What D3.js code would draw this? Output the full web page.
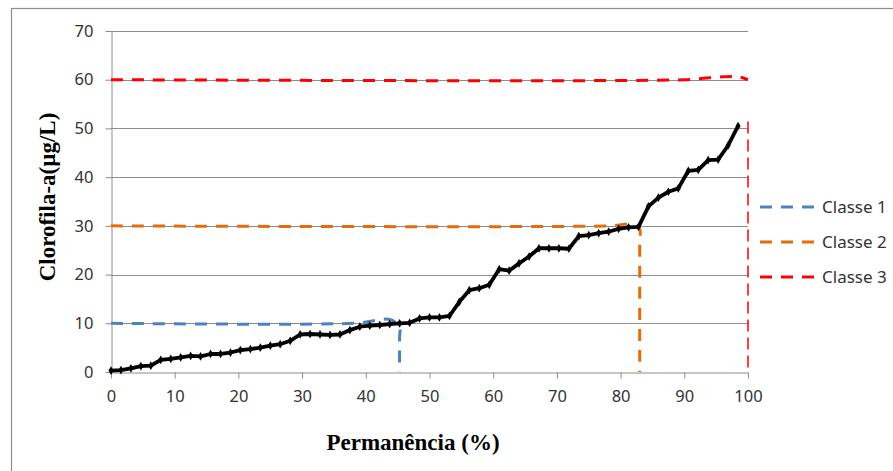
<!DOCTYPE html>
<html>
<head>
<meta charset="utf-8">
<script src="https://cdn.jsdelivr.net/npm/d3@7"></script>
<style>
  html, body { margin: 0; padding: 0; background: #fff; }
  svg { display: block; }
</style>
</head>
<body>
<svg id="chart" width="893" height="471"></svg>
<script>
// ---- Data ----
const permanencia = [0, 1.56, 3.13, 4.69, 6.25, 7.81, 9.38, 10.94, 12.5, 14.06, 15.63, 17.19, 18.75, 20.31, 21.88, 23.44,
  25.0, 26.56, 28.13, 29.69, 31.25, 32.81, 34.38, 35.94, 37.5, 39.06, 40.63, 42.19, 43.75, 45.31, 46.88, 48.44,
  50.0, 51.56, 53.13, 54.69, 56.25, 57.81, 59.38, 60.94, 62.5, 64.06, 65.63, 67.19, 68.75, 70.31, 71.88, 73.44,
  75.0, 76.56, 78.13, 79.69, 81.25, 82.81, 84.38, 85.94, 87.5, 89.06, 90.63, 92.19, 93.75, 95.31, 96.88, 98.44];
const clorofila = [0.3, 0.4, 0.75, 1.2, 1.3, 2.5, 2.7, 3.0, 3.3, 3.2, 3.7, 3.7, 4.0, 4.5, 4.7, 5.0,
  5.4, 5.7, 6.4, 7.7, 7.8, 7.7, 7.6, 7.7, 8.6, 9.3, 9.5, 9.65, 9.85, 10.0, 10.1, 11.0,
  11.2, 11.2, 11.5, 14.4, 16.8, 17.2, 17.9, 21.1, 20.8, 22.3, 23.7, 25.4, 25.4, 25.4, 25.3, 27.9,
  28.1, 28.5, 28.8, 29.4, 29.7, 29.8, 34.0, 35.8, 37.0, 37.7, 41.3, 41.5, 43.5, 43.6, 46.5, 50.5];

const classe1X = [0, 38, 44, 45.3, 45.3, 45.3];
const classe1Y = [10, 10, 10.7, 9, 7, 0];
const classe2X = [0, 78, 81.7, 83.0, 83.0, 83.0];
const classe2Y = [30, 30, 30.3, 29.3, 27, 0];
const classe3X = [0, 90, 93, 96, 98.5, 100];
const classe3Y = [60, 60, 60.3, 60.6, 60.6, 60];
const classe3DropX = [100, 100];
const classe3DropY = [51.4, 0];

const legendLabels = ["Classe 1", "Classe 2", "Classe 3"];
const classColors = ["#4F81BD", "#E46C0A", "#FF0000"];
const xTicks = [0, 10, 20, 30, 40, 50, 60, 70, 80, 90, 100];
const yTicks = [0, 10, 20, 30, 40, 50, 60, 70];

// ---- Chart ----
const svg = d3.select("#chart");
const x = d3.scaleLinear().domain([0, 100]).range([111, 748]);
const y = d3.scaleLinear().domain([0, 70]).range([372, 31]);

// outer border
svg.append("rect").attr("x", 11.5).attr("y", 8.5).attr("width", 900).attr("height", 480)
  .attr("fill", "none").attr("stroke", "#8c8c8c").attr("stroke-width", 1.2);

// gridlines
svg.append("g").selectAll("line").data(yTicks.filter(d => d > 0)).join("line")
  .attr("x1", x(0)).attr("x2", x(100))
  .attr("y1", d => Math.round(y(d)) + 0.5).attr("y2", d => Math.round(y(d)) + 0.5)
  .attr("stroke", "#8c8c8c").attr("stroke-width", 1);

// y axis
const yAxis = d3.axisLeft(y).tickValues(yTicks).tickSize(6).tickPadding(12).tickSizeOuter(0);
const gy = svg.append("g").attr("transform", `translate(${x(0) + 0.5},0)`).call(yAxis);
gy.select(".domain").attr("stroke", "#8c8c8c");
gy.selectAll(".tick line").attr("stroke", "#8c8c8c");
gy.selectAll(".tick text").attr("font-family", "'Noto Sans', sans-serif").attr("font-size", 16.5)
  .attr("fill", "#333");

// x axis
const xAxis = d3.axisBottom(x).tickValues(xTicks).tickSize(6).tickPadding(12).tickSizeOuter(0);
const gx = svg.append("g").attr("transform", `translate(0,${Math.round(y(0)) + 0.5})`).call(xAxis);
gx.select(".domain").attr("stroke", "#8c8c8c");
gx.selectAll(".tick line").attr("stroke", "#8c8c8c");
gx.selectAll(".tick text").attr("font-family", "'Noto Sans', sans-serif").attr("font-size", 16.5)
  .attr("fill", "#333");

// class lines
const classLine = d3.line().x(d => x(d[0])).y(d => y(d[1])).curve(d3.curveCatmullRom.alpha(0.5));
const straight = d3.line().x(d => x(d[0])).y(d => y(d[1]));
const classes = [
  d3.zip(classe1X, classe1Y),
  d3.zip(classe2X, classe2Y),
  d3.zip(classe3X, classe3Y)
];
classes.forEach((pts, i) => {
  svg.append("path").attr("d", classLine(pts)).attr("fill", "none")
    .attr("stroke", classColors[i]).attr("stroke-width", 3).attr("stroke-dasharray", "12 9");
});
svg.append("path").attr("d", straight(d3.zip(classe3DropX, classe3DropY))).attr("fill", "none")
  .attr("stroke", classColors[2]).attr("stroke-width", 1.5).attr("stroke-dasharray", "12 6");

// main curve
const pts = d3.zip(permanencia, clorofila);
svg.append("path").attr("d", straight(pts)).attr("fill", "none")
  .attr("stroke", "#000").attr("stroke-width", 3.8).attr("stroke-linejoin", "round");
svg.append("g").selectAll("path").data(pts).join("path")
  .attr("transform", d => `translate(${x(d[0])},${y(d[1])})`)
  .attr("d", d3.symbol(d3.symbolDiamond, 22)).attr("fill", "#000");

// axis titles
svg.append("text").attr("x", 413).attr("y", 450).attr("text-anchor", "middle")
  .attr("font-family", "'Liberation Serif', 'Times New Roman', serif").attr("font-weight", "bold")
  .attr("font-size", 23).attr("fill", "#000").text("Permanência (%)");
svg.append("text").attr("transform", "translate(55,197) rotate(-90)").attr("text-anchor", "middle")
  .attr("font-family", "'Liberation Serif', 'Times New Roman', serif").attr("font-weight", "bold")
  .attr("font-size", 23).attr("fill", "#000").text("Clorofila-a(µg/L)");

// legend
const legendY = [207, 242, 277];
const lg = svg.append("g");
legendLabels.forEach((lab, i) => {
  lg.append("line").attr("x1", 760).attr("x2", 815).attr("y1", legendY[i]).attr("y2", legendY[i])
    .attr("stroke", classColors[i]).attr("stroke-width", 3).attr("stroke-dasharray", "12 9");
  lg.append("text").attr("x", 822).attr("y", legendY[i] + 6).attr("font-family", "'Noto Sans', sans-serif")
    .attr("font-size", 17).attr("fill", "#333").text(lab);
});
</script>
</body>
</html>
